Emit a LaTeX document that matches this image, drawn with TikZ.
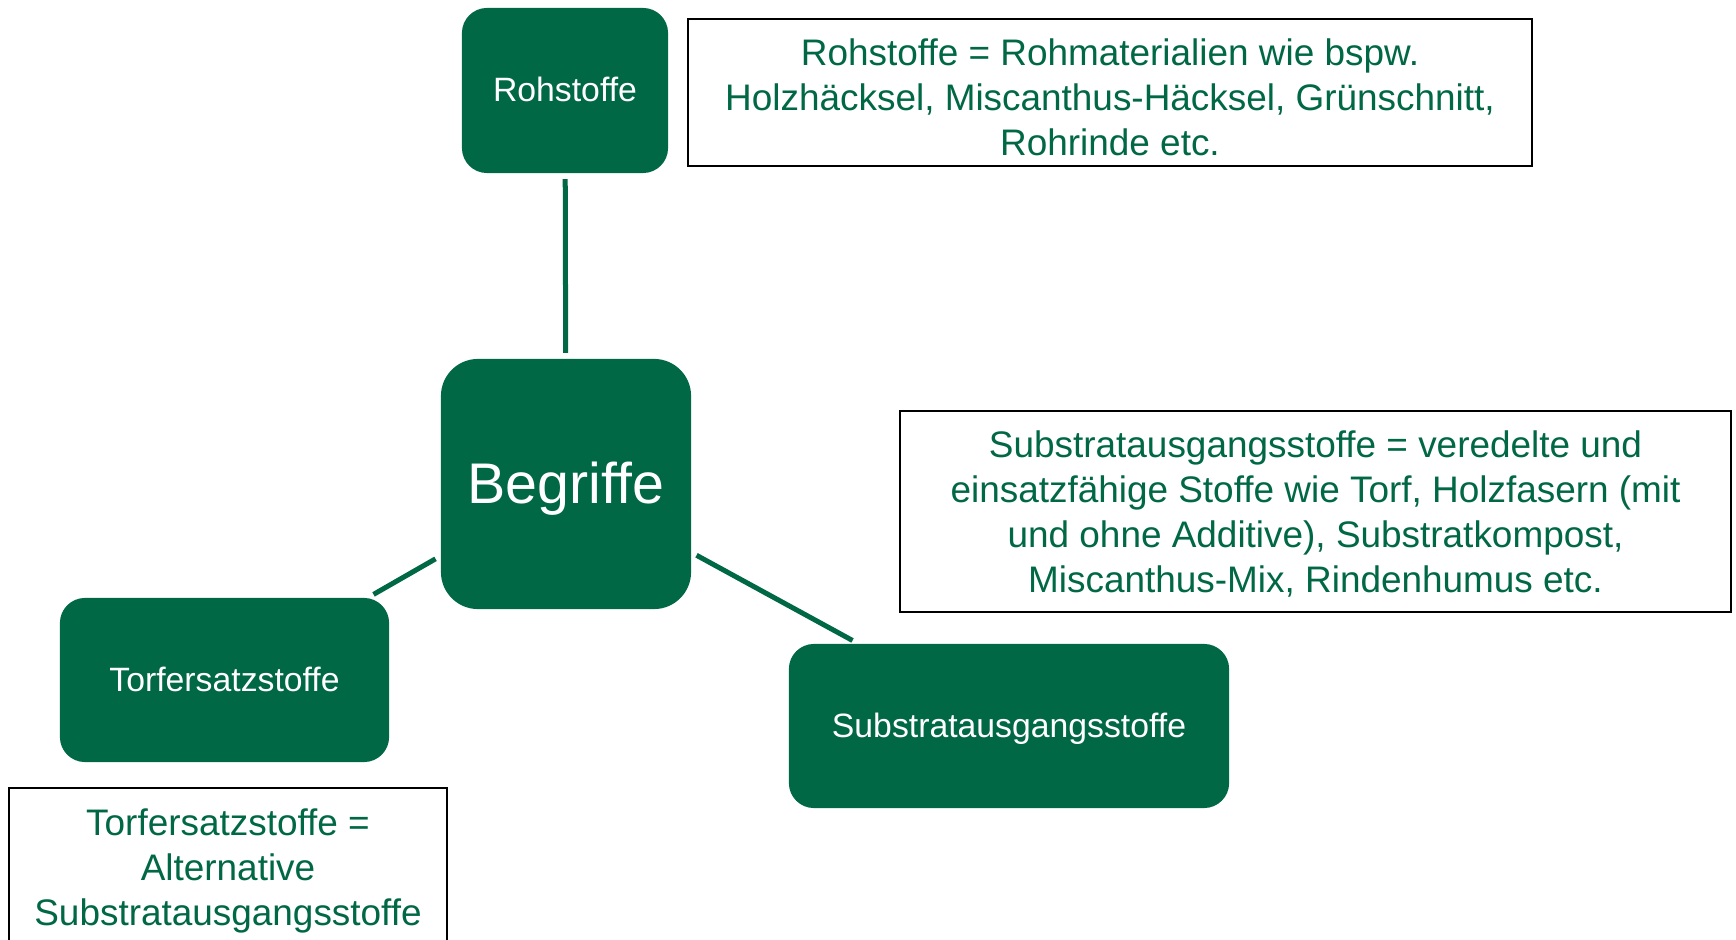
\documentclass[tikz,border=0pt]{standalone}
\usepackage{fontspec}
\setmainfont{Liberation Sans}
\definecolor{dkgreen}{RGB}{0,104,68}

\begin{document}
\begin{tikzpicture}[x=0.01cm,y=-0.01cm,semithick]
        \tikzstyle{begriff}=[rectangle, rounded corners=0.25cm, fill=dkgreen, text=white, inner sep=0pt, text height=6.4pt, text depth=0pt, font=\fontsize{9.6}{11}\selectfont]
        \tikzstyle{erklaerung}=[rectangle, draw=black, line width=0.6pt, fill=white, text=dkgreen, align=center, inner sep=0pt, font=\fontsize{10.5}{12.8}\selectfont]
        \tikzstyle{verbindung}=[draw=dkgreen, line width=0.05cm, shorten <=0.05cm, shorten >=0.05cm]

        \useasboundingbox (0,0) rectangle (1736,940);
        \clip (0,0) rectangle (1736,940);

        \node[begriff, minimum width=2.06cm, minimum height=1.65cm] (roh) at (565,90.5) {Rohstoffe};
        \node[begriff, minimum width=2.5cm, minimum height=2.5cm, rounded corners=0.37cm, text height=14.4pt, text depth=3.4pt, font=\fontsize{16.3}{19}\selectfont] (begriffe) at (566,484) {Begriffe};
        \node[begriff, minimum width=3.29cm, minimum height=1.64cm] (torf) at (224.5,680) {Torfersatzstoffe};
        \node[begriff, minimum width=4.4cm, minimum height=1.64cm] (substrat) at (1009,726) {Substratausgangsstoffe};

        \node[erklaerung, minimum width=8.44cm, minimum height=1.47cm] (rohtext) at (1110,92.5) {\rule{0pt}{10.2pt}Rohstoffe = Rohmaterialien wie bspw.\\ Holzhäcksel, Miscanthus-Häcksel, Grünschnitt,\\ Rohrinde etc.};
        \node[erklaerung, minimum width=8.31cm, minimum height=2.01cm] (substrattext) at (1315.5,511.5) {\rule{0pt}{9pt}Substratausgangsstoffe = veredelte und\\ einsatzfähige Stoffe wie Torf, Holzfasern (mit\\ und ohne Additive), Substratkompost,\\ Miscanthus-Mix, Rindenhumus etc.};
        \node[erklaerung, minimum width=4.38cm, minimum height=1.56cm] (torftext) at (228,866) {\rule{0pt}{10.2pt}Torfersatzstoffe =\\ Alternative\\ Substratausgangsstoffe};

        \draw[verbindung] (roh) -- (begriffe);
        \draw[verbindung] (begriffe) -- (torf);
        \draw[verbindung] (begriffe) -- (substrat);

\end{tikzpicture}
\end{document}
